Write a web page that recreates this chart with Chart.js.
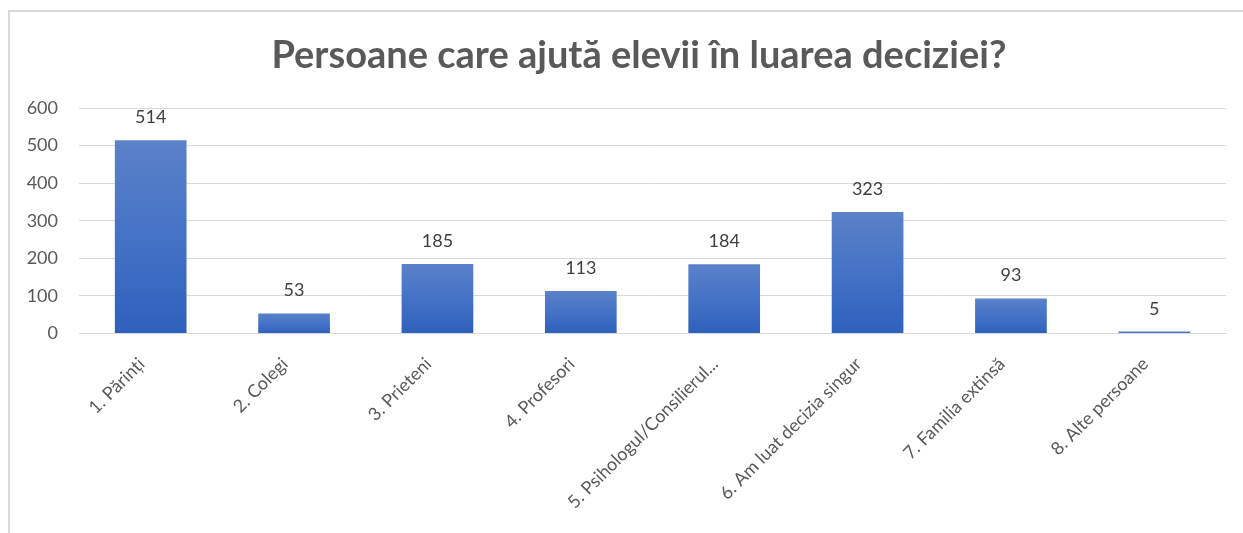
<!DOCTYPE html>
<html>
<head>
<meta charset="utf-8">
<script src="https://cdn.jsdelivr.net/npm/chart.js@4.4.1/dist/chart.umd.min.js"></script>
<style>
  html, body { margin: 0; padding: 0; background: #fff; overflow: hidden; }
  #frame { position: absolute; left: 8px; top: 10px; width: 1240px; height: 540px;
           border-left: 2px solid #d9d9d9; border-top: 2px solid #d9d9d9; }
  #wrap { position: absolute; left: 0; top: 0; width: 1243px; height: 533px; }
</style>
</head>
<body>
<div id="frame"></div>
<div id="wrap"><canvas id="chart"></canvas></div>
<script>
var titleText = 'Persoane care ajută elevii în luarea deciziei?';
var categories = ['1. Părinți', '2. Colegi', '3. Prieteni', '4. Profesori',
  '5. Psihologul/Consilierul...', '6. Am luat decizia singur', '7. Familia extinsă', '8. Alte persoane'];
var counts = [514, 53, 185, 113, 184, 323, 93, 5];
var yTicks = [0, 100, 200, 300, 400, 500, 600];

var fontFam = 'Lato, "Open Sans", sans-serif';

// gradient per bar, lighter at the top
function barFill(ctx) {
  var chart = ctx.chart;
  var ys = chart.scales.y;
  if (!ys || ctx.parsed == null) return '#4472c4';
  var top = ys.getPixelForValue(ctx.parsed.y);
  var base = ys.getPixelForValue(0);
  if (!isFinite(top) || !isFinite(base) || top === base) return '#4472c4';
  var g = chart.ctx.createLinearGradient(0, top, 0, base);
  g.addColorStop(0, '#5b82c9');
  g.addColorStop(0.5, '#4472c6');
  g.addColorStop(1, '#2e60bc');
  return g;
}

var valueLabels = {
  id: 'valueLabels',
  afterDatasetsDraw: function(chart) {
    var c = chart.ctx;
    var meta = chart.getDatasetMeta(0);
    c.save();
    c.font = '18px ' + fontFam;
    c.fillStyle = '#404040';
    c.textAlign = 'center';
    c.textBaseline = 'alphabetic';
    meta.data.forEach(function(bar, i) {
      c.fillText(String(counts[i]), bar.x, bar.y - 17);
    });
    c.restore();
  }
};

// title is centred on the whole frame, not the canvas padding box
var chartTitle = {
  id: 'chartTitle',
  afterDraw: function(chart) {
    var c = chart.ctx;
    c.save();
    c.font = 'bold 38px ' + fontFam;
    c.fillStyle = '#595959';
    c.textAlign = 'center';
    c.textBaseline = 'alphabetic';
    c.fillText(titleText, chart.width * 0.514, 68);
    c.restore();
  }
};

new Chart(document.getElementById('chart'), {
  type: 'bar',
  data: {
    labels: categories,
    datasets: [{
      data: counts,
      backgroundColor: barFill,
      borderWidth: 0,
      categoryPercentage: 1.0,
      barPercentage: 0.5
    }]
  },
  options: {
    responsive: true,
    maintainAspectRatio: false,
    animation: false,
    layout: { padding: { left: 27, right: 17, top: 108, bottom: 8 } },
    plugins: {
      legend: { display: false },
      tooltip: { enabled: false },
      title: { display: false }
    },
    scales: {
      x: {
        grid: { display: false },
        border: { color: '#d9d9d9', width: 1 },
        ticks: {
          color: '#595959',
          font: { family: fontFam, size: 18 },
          minRotation: 45,
          maxRotation: 45,
          autoSkip: false,
          labelOffset: -9,
          padding: 12
        }
      },
      y: {
        min: 0,
        max: 600,
        afterBuildTicks: function(axis) {
          axis.ticks = yTicks.map(function(v) { return { value: v }; });
        },
        afterFit: function(axis) { axis.width = 52; },
        grid: { color: '#d9d9d9', lineWidth: 1, drawTicks: false },
        border: { display: false },
        ticks: {
          color: '#595959',
          font: { family: fontFam, size: 18 },
          padding: 21
        }
      }
    }
  },
  plugins: [valueLabels, chartTitle]
});
</script>
</body>
</html>
